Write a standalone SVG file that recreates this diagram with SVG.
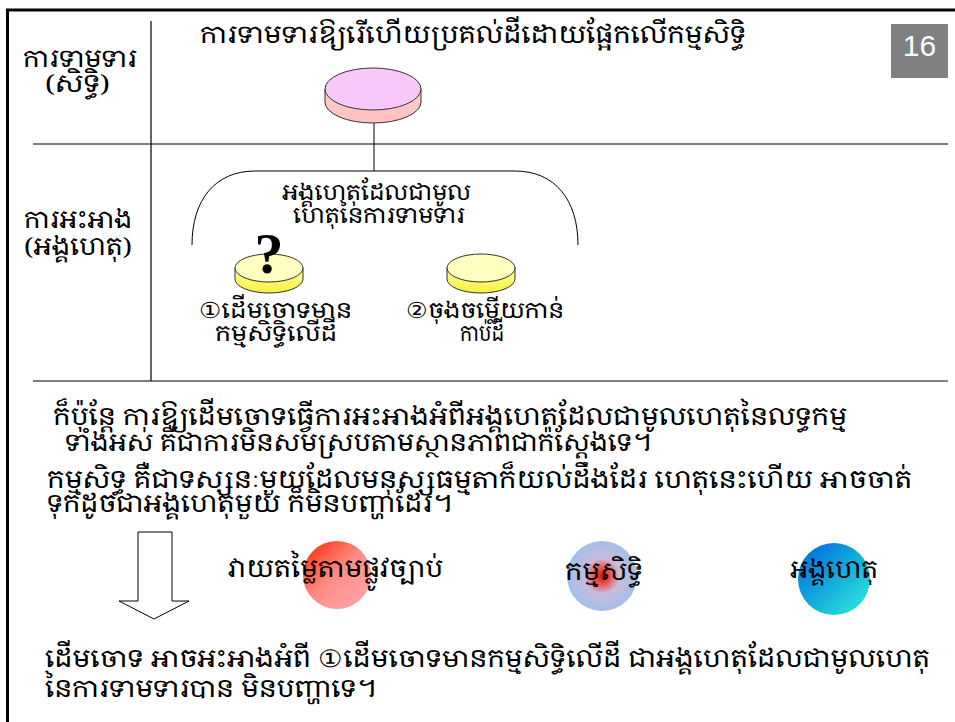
<svg xmlns="http://www.w3.org/2000/svg" width="955" height="722" viewBox="0 0 955 722">
<style>
.km{font-family:"Noto Serif Khmer","Khmer OS System","Khmer OS","Noto Sans Khmer","Khmer UI","DaunPenh","Hanuman",sans-serif;fill:#000;}
.t24{font-size:24px;}
.t22{font-size:22px;}
.grid{stroke:#000;stroke-width:1.2;fill:none;}
.disc{stroke:#333;stroke-width:1;}
.con{stroke:#000;stroke-width:1;fill:none;}
</style>
<defs>
<linearGradient id="gPinkBand" x1="0" y1="0" x2="0" y2="1"><stop offset="0" stop-color="#ffd0d0"/><stop offset="1" stop-color="#ffc0c0"/></linearGradient>
<linearGradient id="gYelBand" x1="0" y1="0" x2="0" y2="1"><stop offset="0" stop-color="#ffffa0"/><stop offset="1" stop-color="#f8f040"/></linearGradient>
<linearGradient id="gRed" x1="0.1" y1="0.1" x2="0.85" y2="0.9"><stop offset="0" stop-color="#ff3818"/><stop offset="0.5" stop-color="#ff8c84"/><stop offset="1" stop-color="#ffa4a4"/></linearGradient>
<radialGradient id="gBlue" cx="0.5" cy="0.5" r="0.5"><stop offset="0" stop-color="#ee1010"/><stop offset="0.25" stop-color="#e85858"/><stop offset="0.5" stop-color="#c8bcdc"/><stop offset="1" stop-color="#a4bfe8"/></radialGradient>
<linearGradient id="gCyan" x1="0.1" y1="0.1" x2="0.9" y2="0.9"><stop offset="0" stop-color="#0070e0"/><stop offset="1" stop-color="#28e4d8"/></linearGradient>
</defs>
<rect width="955" height="722" fill="#fff"/>
<rect x="7.5" y="10" width="960" height="730" fill="none" stroke="#000" stroke-width="3"/>
<g id="grid" class="grid">
<line x1="33" y1="144" x2="948" y2="144"/>
<line x1="33" y1="381" x2="948" y2="381"/>
<line x1="151" y1="21" x2="151" y2="381"/>
</g>
<g id="page-number">
<rect x="891" y="24" width="57" height="54" fill="#808080"/>
<text x="919.5" y="56" font-family="Liberation Sans, Arial, sans-serif" font-size="30" fill="#fff" text-anchor="middle">16</text>
</g>
<g id="title"><text class="km t24" x="200" y="43" textLength="546" lengthAdjust="spacingAndGlyphs">ការទាមទារឱ្យរើហើយប្រគល់ដីដោយផ្អែកលើកម្មសិទ្ធិ</text></g>
<g id="row1-label">
<text class="km t24" x="23" y="67" textLength="114" lengthAdjust="spacingAndGlyphs">ការទាមទារ</text>
<text class="km t24" x="45" y="92" textLength="65" lengthAdjust="spacingAndGlyphs">(សិទ្ធិ)</text>
</g>
<g id="row2-label">
<text class="km t24" x="24" y="228" textLength="108" lengthAdjust="spacingAndGlyphs">ការអះអាង</text>
<text class="km t24" x="24" y="255" textLength="108" lengthAdjust="spacingAndGlyphs">(អង្គហេតុ)</text>
</g>
<g id="connectors">
<line class="con" x1="374" y1="122" x2="374" y2="171"/>
<path class="con" d="M192,245 C192,200 215,171 255,171 L515,171 C555,171 578,200 578,245"/>
</g>
<g id="claim-disc">
<path class="disc" fill="url(#gPinkBand)" d="M325,89 L325,102 A48,21 0 0 0 421,102 L421,89 Z"/>
<ellipse class="disc" cx="373" cy="89" rx="48" ry="21" fill="#f8c8f8"/>
</g>
<g id="bracket-label">
<text class="km t22" x="282" y="200" textLength="189" lengthAdjust="spacingAndGlyphs">អង្គហេតុដែលជាមូល</text>
<text class="km t22" x="293" y="223" textLength="172" lengthAdjust="spacingAndGlyphs">ហេតុនៃការទាមទារ</text>
</g>
<g id="fact1">
<path class="disc" fill="url(#gYelBand)" d="M235,268 L235,279 A34,14 0 0 0 303,279 L303,268 Z"/>
<ellipse class="disc" cx="269" cy="268" rx="34" ry="14" fill="#ffffc0"/>
<text x="269" y="273" font-family="Liberation Serif, Times New Roman, serif" font-size="58" font-weight="bold" text-anchor="middle" fill="#000">?</text>
<text class="km t22" x="199" y="318" textLength="153" lengthAdjust="spacingAndGlyphs">①ដើមចោទមាន</text>
<text class="km t22" x="215" y="341" textLength="122" lengthAdjust="spacingAndGlyphs">កម្មសិទ្ធិលើដី</text>
</g>
<g id="fact2">
<path class="disc" fill="url(#gYelBand)" d="M447,268 L447,279 A34,14 0 0 0 515,279 L515,268 Z"/>
<ellipse class="disc" cx="481" cy="268" rx="34" ry="14" fill="#ffffc0"/>
<text class="km t22" x="406" y="318" textLength="158" lengthAdjust="spacingAndGlyphs">②ចុងចម្លើយកាន់</text>
<text class="km t22" x="460" y="341" textLength="44" lengthAdjust="spacingAndGlyphs">កាប់ដី</text>
</g>
<g id="paragraph1">
<text class="km t24" x="53" y="425" textLength="794" lengthAdjust="spacingAndGlyphs">ក៏ប៉ុន្តែ  ការឱ្យដើមចោទធ្វើការអះអាងអំពីអង្គហេតុដែលជាមូលហេតុនៃលទ្ធកម្ម</text>
<text class="km t24" x="65" y="451" textLength="587" lengthAdjust="spacingAndGlyphs">ទាំងអស់ គឺជាការមិនសមស្របតាមស្ថានភាពជាក់ស្តែងទេ។</text>
<text class="km t24" x="47" y="488" textLength="865" lengthAdjust="spacingAndGlyphs">កម្មសិទ្ធ គឺជាទស្សនៈមួយដែលមនុស្សធម្មតាក៏យល់ដឹងដែរ  ហេតុនេះហើយ អាចចាត់</text>
<text class="km t24" x="47" y="512" textLength="406" lengthAdjust="spacingAndGlyphs">ទុកដូចជាអង្គហេតុមួយ ក៏មិនបញ្ហាដែរ។</text>
</g>
<g id="arrow">
<path d="M138,532 L172,532 L172,601 L189,601 L154,619 L119,601 L138,601 Z" fill="#fff" stroke="#000" stroke-width="1"/>
</g>
<g id="legal">
<circle cx="337" cy="575" r="34" fill="url(#gRed)"/>
<text class="km t24" x="228" y="577" textLength="215" lengthAdjust="spacingAndGlyphs">វាយតម្លៃតាមផ្លូវច្បាប់</text>
</g>
<g id="ownership">
<circle cx="602" cy="576" r="35" fill="url(#gBlue)"/>
<text class="km t24" x="565" y="580" textLength="78" lengthAdjust="spacingAndGlyphs">កម្មសិទ្ធិ</text>
</g>
<g id="fact">
<circle cx="834" cy="579" r="36" fill="url(#gCyan)"/>
<text class="km t24" x="790" y="578" textLength="88" lengthAdjust="spacingAndGlyphs">អង្គហេតុ</text>
</g>
<g id="conclusion">
<text class="km t24" x="45" y="667" textLength="885" lengthAdjust="spacingAndGlyphs">ដើមចោទ អាចអះអាងអំពី ①ដើមចោទមានកម្មសិទ្ធិលើដី  ជាអង្គហេតុដែលជាមូលហេតុ</text>
<text class="km t24" x="45" y="697" textLength="332" lengthAdjust="spacingAndGlyphs">នៃការទាមទារបាន មិនបញ្ហាទេ។</text>
</g>
</svg>
